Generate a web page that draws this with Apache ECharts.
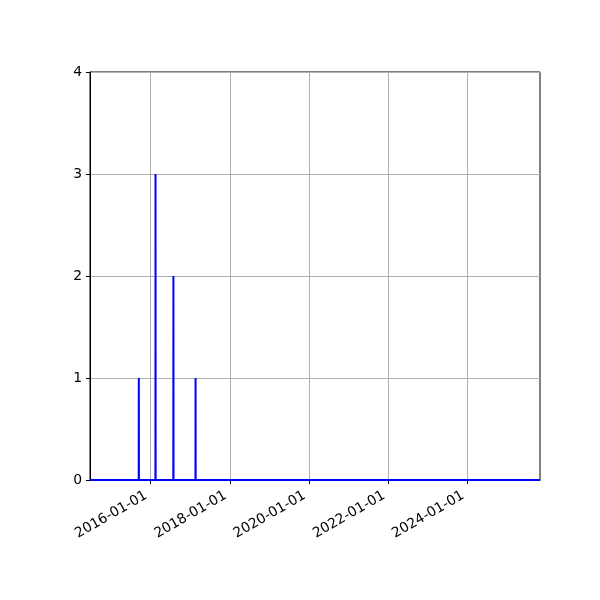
<!DOCTYPE html>
<html>
<head>
<meta charset="utf-8">
<script src="https://cdn.jsdelivr.net/npm/echarts@6/dist/echarts.min.js"></script>
<style>
  html, body { margin: 0; padding: 0; background: #fff; }
  #chart { width: 600px; height: 600px; }
</style>
</head>
<body>
<div id="chart"></div>
<script>
// events (one spike per day)
var eventDates = ['2015-09-15', '2016-02-16', '2016-07-30', '2017-02-19'];
var eventCounts = [1, 3, 2, 1];
// visible date range
var rangeStart = '2014-06-22';
var rangeEnd = '2025-10-30';
var xTicks = ['2016-01-01', '2018-01-01', '2020-01-01', '2022-01-01', '2024-01-01'];
var yTicks = [0, 1, 2, 3, 4];

var DAY = 86400000;
function ts(s) { return new Date(s + 'T00:00:00Z').getTime(); }

// daily series: zero everywhere except the event days
var points = [[ts(rangeStart), 0]];
eventDates.forEach(function (d, i) {
  var t = ts(d);
  points.push([t - DAY, 0]);
  points.push([t, eventCounts[i]]);
  points.push([t + DAY, 0]);
});
points.push([ts(rangeEnd), 0]);

var tickValues = xTicks.map(ts);

var chart = echarts.init(document.getElementById('chart'), null, { renderer: 'canvas' });

var option = {
  animation: false,
  backgroundColor: '#fff',
  grid: {
    left: 90, right: 60, top: 72, bottom: 120,
    show: true, borderColor: '#000', borderWidth: 1, backgroundColor: 'transparent'
  },
  xAxis: {
    type: 'value',
    min: ts(rangeStart),
    max: ts(rangeEnd),
    axisLine: { show: true, lineStyle: { color: '#000', width: 1 } },
    axisTick: { show: true, length: 4, lineStyle: { color: '#000' }, customValues: tickValues },
    axisLabel: {
      customValues: tickValues,
      rotate: 30,
      color: '#000',
      fontSize: 13.9,
      fontFamily: 'DejaVu Sans',
      margin: 12,
      padding: [0, 5, 0, 0],
      formatter: function (v) {
        return new Date(v).toISOString().slice(0, 10);
      }
    },
    splitLine: { show: true, lineStyle: { color: '#b0b0b0', width: 1 } }
  },
  yAxis: {
    type: 'value',
    min: yTicks[0],
    max: yTicks[yTicks.length - 1],
    interval: 1,
    axisLine: { show: true, lineStyle: { color: '#000', width: 1 } },
    axisTick: { show: true, length: 4, lineStyle: { color: '#000' } },
    axisLabel: { color: '#000', fontSize: 13.9, fontFamily: 'DejaVu Sans', margin: 8 },
    splitLine: { show: true, lineStyle: { color: '#b0b0b0', width: 1 } }
  },
  series: [{
    type: 'line',
    data: points,
    showSymbol: false,
    symbol: 'none',
    lineStyle: { color: '#0000ff', width: 2 },
    z: 5
  }]
};

chart.setOption(option);
window.addEventListener('resize', chart.resize);
</script>
</body>
</html>
